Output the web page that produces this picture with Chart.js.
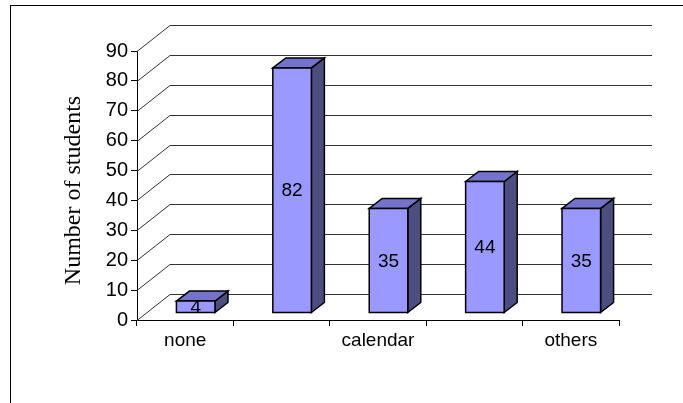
<!DOCTYPE html>
<html>
<head>
<meta charset="utf-8">
<script src="https://cdn.jsdelivr.net/npm/chart.js@4.4.0/dist/chart.umd.min.js"></script>
<style>
  body { margin: 0; background: #fff; }
</style>
</head>
<body>
<canvas id="chart" width="683" height="403"></canvas>
<script>
// Categories (every other label is left blank on the axis)
const categories = ["none", "", "calendar", "", "others"];
const students = [4, 82, 35, 44, 35];
const yTicks = [0, 10, 20, 30, 40, 50, 60, 70, 80, 90];
const yTitle = "Number of students";

// 3D look: depth of the back wall, and where each bar sits inside it
const WALL_DX = 33, WALL_DY = -26;
const BAR_SHIFT_X = 10.5, BAR_SHIFT_Y = -7;
const BAR_DX = 13, BAR_DY = -10;

const FRONT = "#9999ff", TOP = "#7373cc", SIDE = "#4d4d80";

function polygon(ctx, pts, fill) {
  ctx.beginPath();
  ctx.moveTo(pts[0][0], pts[0][1]);
  for (let i = 1; i < pts.length; i++) ctx.lineTo(pts[i][0], pts[i][1]);
  ctx.closePath();
  ctx.fillStyle = fill;
  ctx.fill();
  ctx.stroke();
}

const threeD = {
  id: "threeD",
  beforeDraw(chart) {
    const ctx = chart.ctx;
    ctx.save();
    ctx.fillStyle = "#fff";
    ctx.fillRect(0, 0, chart.width, chart.height);
    // frame around the chart (runs off the right and bottom)
    ctx.strokeStyle = "#000";
    ctx.lineWidth = 1;
    ctx.strokeRect(10.5, 5.5, 700, 420);
    ctx.restore();
  },
  beforeDatasetsDraw(chart) {
    const { ctx, chartArea, scales } = chart;
    ctx.save();
    ctx.strokeStyle = "#333";
    ctx.lineWidth = 1;
    // gridlines run up the side wall and then across the back wall
    yTicks.forEach(v => {
      const py = Math.round(scales.y.getPixelForValue(v)) + 0.5;
      ctx.beginPath();
      ctx.moveTo(chartArea.left, py);
      ctx.lineTo(chartArea.left + WALL_DX, py + WALL_DY);
      ctx.lineTo(chartArea.right + WALL_DX, py + WALL_DY);
      ctx.stroke();
    });
    ctx.restore();
  },
  afterDatasetsDraw(chart) {
    const ctx = chart.ctx;
    const meta = chart.getDatasetMeta(0);
    ctx.save();
    ctx.strokeStyle = "#000";
    ctx.lineWidth = 1.5;
    ctx.lineJoin = "miter";
    meta.data.forEach((bar, i) => {
      const w = bar.width;
      const x0 = bar.x - w / 2 + BAR_SHIFT_X;
      const x1 = x0 + w;
      const top = bar.y + BAR_SHIFT_Y;
      const base = bar.base + BAR_SHIFT_Y;

      polygon(ctx, [[x1, base], [x1 + BAR_DX, base + BAR_DY], [x1 + BAR_DX, top + BAR_DY], [x1, top]], SIDE);
      polygon(ctx, [[x0, top], [x0 + BAR_DX, top + BAR_DY], [x1 + BAR_DX, top + BAR_DY], [x1, top]], TOP);
      polygon(ctx, [[x0, top], [x1, top], [x1, base], [x0, base]], FRONT);

      ctx.fillStyle = "#000";
      ctx.font = "19px 'Liberation Sans', Arial, sans-serif";
      ctx.textAlign = "center";
      ctx.textBaseline = "middle";
      ctx.fillText(String(students[i]), (x0 + x1) / 2, (top + base) / 2 + 1);
    });
    ctx.restore();
  },
  afterDraw(chart) {
    // rotated y-axis title, sitting a little below the plot's middle
    const ctx = chart.ctx;
    const area = chart.chartArea;
    ctx.save();
    ctx.translate(74, (area.top + area.bottom) / 2 + 5);
    ctx.rotate(-Math.PI / 2);
    ctx.fillStyle = "#000";
    ctx.font = "24px 'Liberation Serif', 'Times New Roman', serif";
    ctx.textAlign = "center";
    ctx.textBaseline = "middle";
    ctx.fillText(yTitle, 0, 0);
    ctx.restore();
  }
};

new Chart(document.getElementById("chart"), {
  type: "bar",
  data: {
    labels: categories,
    datasets: [{
      data: students,
      backgroundColor: "rgba(0,0,0,0)",
      borderWidth: 0,
      barPercentage: 0.4,
      categoryPercentage: 1.0
    }]
  },
  options: {
    responsive: false,
    animation: false,
    layout: { padding: { left: 0, top: 51, right: 64, bottom: 0 } },
    plugins: { legend: { display: false }, tooltip: { enabled: false } },
    scales: {
      x: {
        grid: { offset: true, drawOnChartArea: false, tickLength: 6, color: "#000" },
        border: { display: true, color: "#000", width: 1 },
        ticks: {
          autoSkip: false, maxRotation: 0, padding: 3, color: "#000",
          font: { family: "'Liberation Sans', Arial, sans-serif", size: 19 }
        },
        afterFit(scale) { scale.height = 83; }
      },
      y: {
        min: 0, max: 90,
        grid: { drawOnChartArea: false, tickLength: 6, color: "#000" },
        border: { display: true, color: "#000", width: 1 },
        ticks: {
          stepSize: 10, padding: 3, color: "#000",
          font: { family: "'Liberation Sans', Arial, sans-serif", size: 20 }
        },
        afterFit(scale) { scale.width = 137; }
      }
    }
  },
  plugins: [threeD]
});
</script>
</body>
</html>
